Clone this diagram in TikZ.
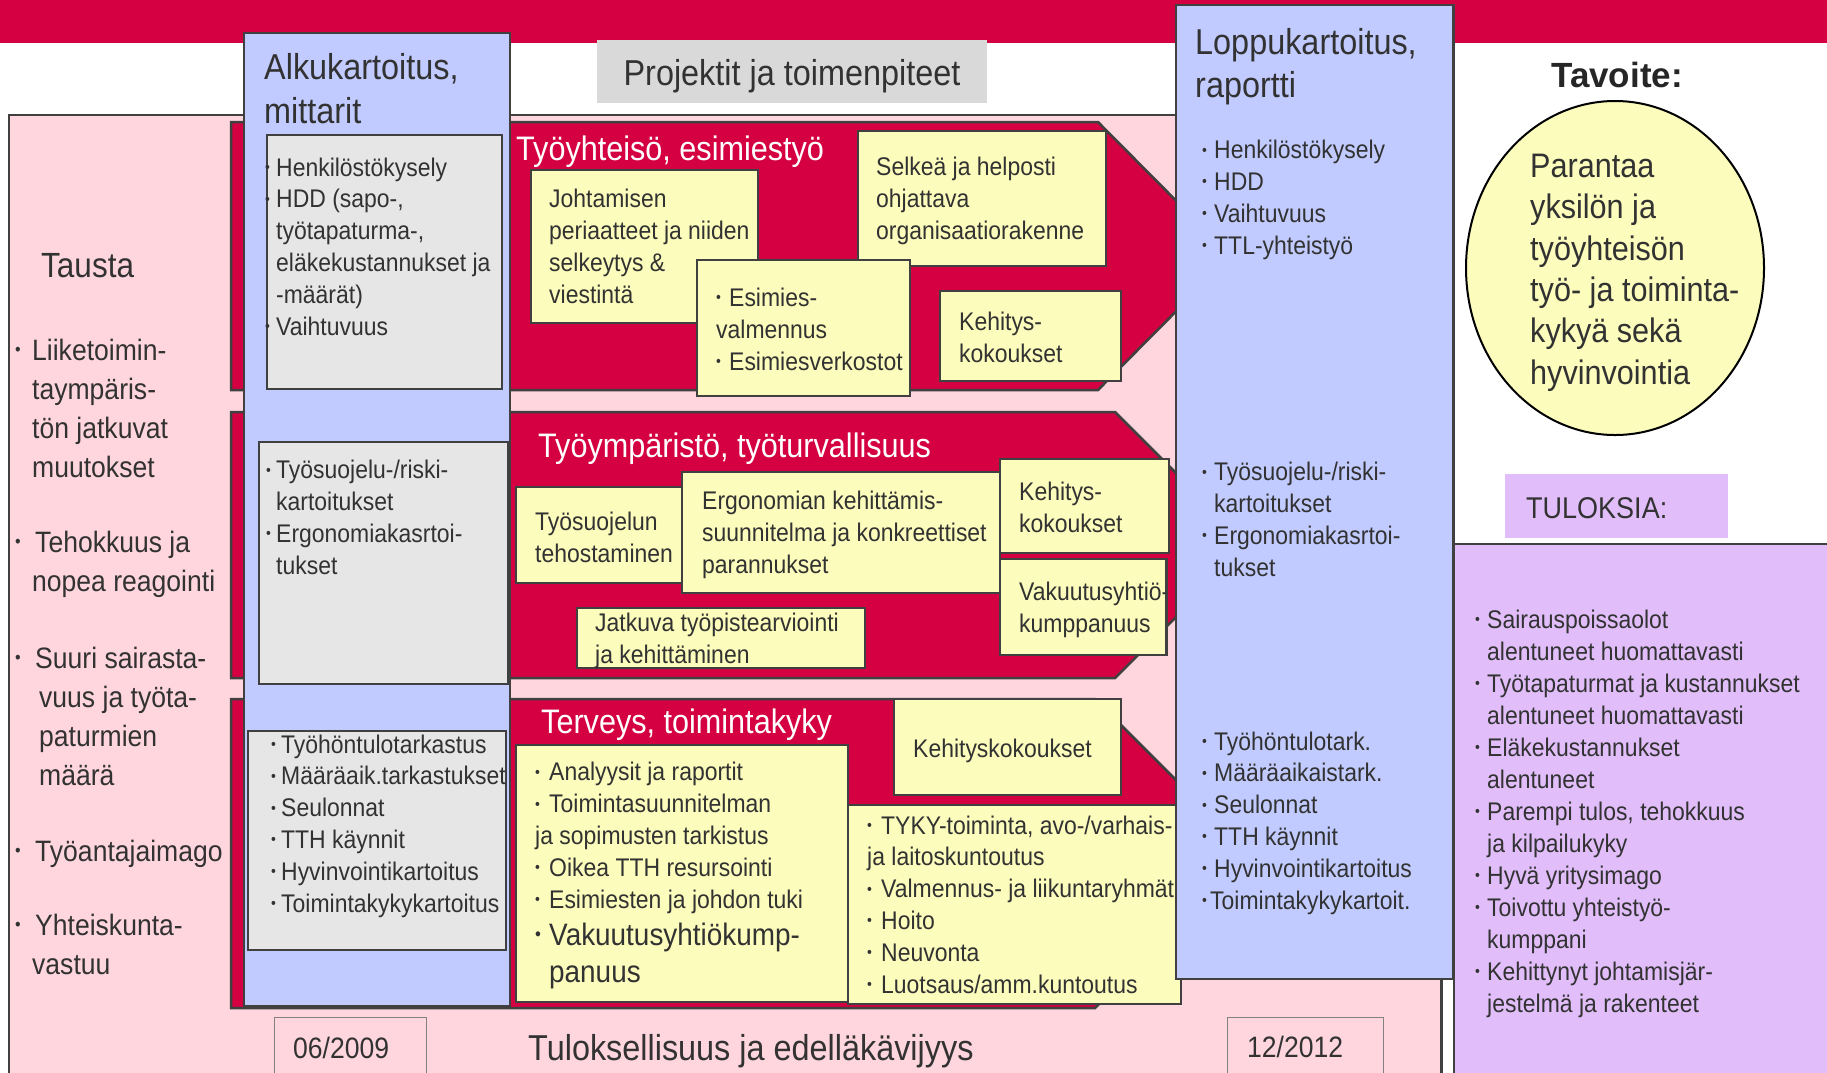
\documentclass[tikz,border=0pt]{standalone}
\usepackage{fontspec}
\setmainfont{Liberation Sans}[FakeStretch=0.9]
\newfontfamily\widesans{Liberation Sans}

\definecolor{crim}{RGB}{213,0,66}
\definecolor{rosa}{RGB}{255,214,222}
\definecolor{blu}{RGB}{193,203,255}
\definecolor{gry}{RGB}{230,230,230}
\definecolor{ylw}{RGB}{252,252,188}
\definecolor{lila}{RGB}{225,190,250}
\definecolor{edge}{RGB}{64,64,64}
\definecolor{ink}{RGB}{50,50,50}
\definecolor{bar}{RGB}{217,217,217}
\definecolor{datec}{RGB}{130,130,130}

\newcommand\fbody{\fontsize{25.5}{31.8}\selectfont}
\newcommand\fhead{\fontsize{36}{43.5}\selectfont}
\newcommand\fband{\fontsize{34}{40}\selectfont}
\newcommand\ftaus{\fontsize{29.5}{39}\selectfont}
\newcommand\foval{\fontsize{34}{41.3}\selectfont}
\newcommand\fbig{\fontsize{31}{37}\selectfont}
\newcommand\blt[1][10pt]{\makebox[#1][l]{\raisebox{0.14em}{\scalebox{0.6}{\textbullet}}}}
\newcommand\skp[1][10pt]{\hspace*{#1}}

\begin{document}
\begin{tikzpicture}[x=1pt, y=-1pt,
  edged/.style={draw=edge, line width=2.5pt},
  ybox/.style={edged, fill=ylw},
  gbox/.style={edged, fill=gry},
  bbox/.style={edged, fill=blu},
  band/.style={edged, fill=crim},
  % multi-line texts sit on the baseline of their last line
  txt/.style={inner sep=0pt, anchor=base west, align=left, text=ink, font=\fbody},
  wtxt/.style={txt, text=white, font=\fband},
  datebox/.style={draw=datec, line width=1pt}]
  \useasboundingbox (0,0) rectangle (1827,1072);
  \fill[white] (0,0) rectangle (1827,1072);

  % top band and heading bar
  \fill[crim] (0,0) rectangle (1827,43);
  \fill[bar] (597,40) rectangle (987,103);
  \node[txt, anchor=base, font=\fhead] (proj) at (792,85) {Projektit ja toimenpiteet};

  % background
  \draw[edged, fill=rosa] (9,115) rectangle (1441.5,1085);
  \draw[datebox] (274,1085) -- (274,1017) -- (426,1017) -- (426,1085);
  \draw[datebox] (1227,1085) -- (1227,1017) -- (1383,1017) -- (1383,1085);
  \node[txt, font=\ftaus] (alkupvm) at (293,1058) {06/2009};
  \node[txt, font=\ftaus] (loppupvm) at (1247,1057) {12/2012};
  \node[txt, font=\fontsize{36}{40}\selectfont] (tulos) at (528,1060) {Tuloksellisuus ja edelläkävijyys};

  % tausta
  \node[txt, font=\fontsize{35}{40}\selectfont] (tausta) at (41,277) {Tausta};
  \foreach \yy/\words in {477/{\blt[17pt]Liiketoimin-\\\skp[17pt]taympäris-\\\skp[17pt]tön jatkuvat\\\skp[17pt]muutokset},
      591/{\blt[20pt]Tehokkuus ja\\\skp[17pt]nopea reagointi},
      785/{\blt[20pt]Suuri sairasta-\\\skp[24pt]vuus ja työta-\\\skp[24pt]paturmien\\\skp[24pt]määrä},
      861/{\blt[20pt]Työantajaimago},
      974/{\blt[20pt]Yhteiskunta-\\\skp[17pt]vastuu}}
    \node[txt, font=\ftaus] at (15,\yy) {\words};

  % bands
  \draw[band] (231,122) -- (1098,122) -- (1231,256) -- (1098,390) -- (231,390) -- cycle;
  \draw[band] (231,412) -- (1115,412) -- (1248,545) -- (1115,678) -- (231,678) -- cycle;
  \draw[band] (231,699) -- (1095,699) -- (1250,854) -- (1095,1008) -- (231,1008) -- cycle;

  % alkukartoitus
  \draw[bbox] (244,33) rectangle (510,1006);
  \node[txt, font=\fhead] (alku) at (264,123) {Alkukartoitus,\\mittarit};
  \draw[gbox] (267,135) rectangle (502,389);
  \node[txt] (alku1) at (265,335) {\blt[11pt]Henkilöstökysely\\\blt[11pt]HDD (sapo-,\\\skp[11pt]työtapaturma-,\\\skp[11pt]eläkekustannukset ja\\\skp[11pt]-määrät)\\\blt[11pt]Vaihtuvuus};
  \draw[gbox] (259,442) rectangle (508,684);
  \node[txt] (alku2) at (266,574) {\blt Työsuojelu-/riski-\\\skp kartoitukset\\\blt Ergonomiakasrtoi-\\\skp tukset};
  \draw[gbox] (248,731) rectangle (506,950);
  \node[txt] (alku3) at (271,912) {\blt Työhöntulotarkastus\\\blt Määräaik.tarkastukset\\\blt Seulonnat\\\blt TTH käynnit\\\blt Hyvinvointikartoitus\\\blt Toimintakykykartoitus};

  % tyoyhteiso
  \node[wtxt] (band1) at (516,160) {Työyhteisö, esimiestyö};
  \draw[ybox] (531,170) rectangle (758,323);
  \node[txt] (johto) at (549,303) {Johtamisen\\periaatteet ja niiden\\selkeytys \&\\viestintä};
  \draw[ybox] (858,131) rectangle (1106,266);
  \node[txt] (selkea) at (876,239) {Selkeä ja helposti\\ohjattava\\organisaatiorakenne};
  \draw[ybox] (697,260) rectangle (910,396);
  \node[txt] (esimies) at (716,370) {\blt[13pt]Esimies-\\valmennus\\\blt[13pt]Esimiesverkostot};
  \draw[ybox] (940,291) rectangle (1121,381);
  \node[txt] (kehitys1) at (959,362) {Kehitys-\\kokoukset};

  % tyoymparisto
  \node[wtxt] (band2) at (538,457) {Työympäristö, työturvallisuus};
  \draw[ybox] (516,487) rectangle (682,583);
  \node[txt] (tsuoj) at (535,562) {Työsuojelun\\tehostaminen};
  \draw[ybox] (682,472) rectangle (1000,593);
  \node[txt] (ergo) at (702,573) {Ergonomian kehittämis-\\suunnitelma ja konkreettiset\\parannukset};
  \draw[ybox] (1000,459) rectangle (1169,553);
  \node[txt] (kehitys2) at (1019,532) {Kehitys-\\kokoukset};
  \draw[ybox] (1000,559) rectangle (1166.5,655);
  \begin{scope}
    \clip (1000,559) rectangle (1165,655);
    \node[txt] (vakuu) at (1019,632) {Vakuutusyhtiö-\\kumppanuus};
  \end{scope}
  \draw[ybox] (577,608) rectangle (865,668);
  \node[txt] (jatkuva) at (595,663) {Jatkuva työpistearviointi\\ja kehittäminen};

  % terveys
  \node[wtxt] (band3) at (541,733) {Terveys, toimintakyky};
  \draw[ybox] (516,745) rectangle (848,1002);
  \node[txt] (analyysit) at (535,908) {\blt[14pt]Analyysit ja raportit\\\blt[14pt]Toimintasuunnitelman\\ja sopimusten tarkistus\\\blt[14pt]Oikea TTH resursointi\\\blt[14pt]Esimiesten ja johdon tuki};
  \node[txt, font=\fbig] (vakkump) at (535,982) {\blt[14pt]Vakuutusyhtiökump-\\\skp[14pt]panuus};
  \draw[ybox] (894,699) rectangle (1121,795);
  \node[txt] (kehitys3) at (913,757) {Kehityskokoukset};
  \draw[ybox] (848,805) rectangle (1181,1004);
  \node[txt] (tyky) at (867,993) {\blt[14pt]TYKY-toiminta, avo-/varhais-\\ja laitoskuntoutus\\\blt[14pt]Valmennus- ja liikuntaryhmät\\\blt[14pt]Hoito\\\blt[14pt]Neuvonta\\\blt[14pt]Luotsaus/amm.kuntoutus};

  % loppukartoitus
  \fill[lila] (1454,544) rectangle (1830,1085);
  \draw[edged] (1454,1085) -- (1454,544) -- (1830,544);
  \draw[bbox] (1176,5) rectangle (1453.5,979);
  \node[txt, font=\fhead] (loppu) at (1195,97.5) {Loppukartoitus,\\raportti};
  \node[txt] (loppu1) at (1202,254) {\blt[12pt]Henkilöstökysely\\\blt[12pt]HDD\\\blt[12pt]Vaihtuvuus\\\blt[12pt]TTL-yhteistyö};
  \node[txt] (loppu2) at (1202,576) {\blt[12pt]Työsuojelu-/riski-\\\skp[12pt]kartoitukset\\\blt[12pt]Ergonomiakasrtoi-\\\skp[12pt]tukset};
  \node[txt] (loppu3) at (1202,909) {\blt[12pt]Työhöntulotark.\\\blt[12pt]Määräaikaistark.\\\blt[12pt]Seulonnat\\\blt[12pt]TTH käynnit\\\blt[12pt]Hyvinvointikartoitus\\\blt[8pt]Toimintakykykartoit.};

  % tavoite
  \node[txt, anchor=base, text=black!85, font=\widesans\bfseries\fontsize{35}{40}\selectfont] (tavoite) at (1617,87.5) {Tavoite:};
  \draw[fill=ylw, line width=2pt] (1615,268) ellipse [x radius=149pt, y radius=167pt];
  \node[txt, font=\foval] (oval) at (1530,384) {Parantaa\\yksilön ja\\työyhteisön\\työ- ja toiminta-\\kykyä sekä\\hyvinvointia};

  % tuloksia
  \fill[lila] (1505,474) rectangle (1728,537.5);
  \node[txt, font=\fontsize{30}{36}\selectfont] (tuloksia) at (1526,518) {TULOKSIA:};
  \node[txt, font=\fontsize{25.5}{32}\selectfont] (tulokset) at (1475,1012) {\blt[12pt]Sairauspoissaolot\\\skp[12pt]alentuneet huomattavasti\\\blt[12pt]Työtapaturmat ja kustannukset\\\skp[12pt]alentuneet huomattavasti\\\blt[12pt]Eläkekustannukset\\\skp[12pt]alentuneet\\\blt[12pt]Parempi tulos, tehokkuus\\\skp[12pt]ja kilpailukyky\\\blt[12pt]Hyvä yritysimago\\\blt[12pt]Toivottu yhteistyö-\\\skp[12pt]kumppani\\\blt[12pt]Kehittynyt johtamisjär-\\\skp[12pt]jestelmä ja rakenteet};
\end{tikzpicture}
\end{document}
